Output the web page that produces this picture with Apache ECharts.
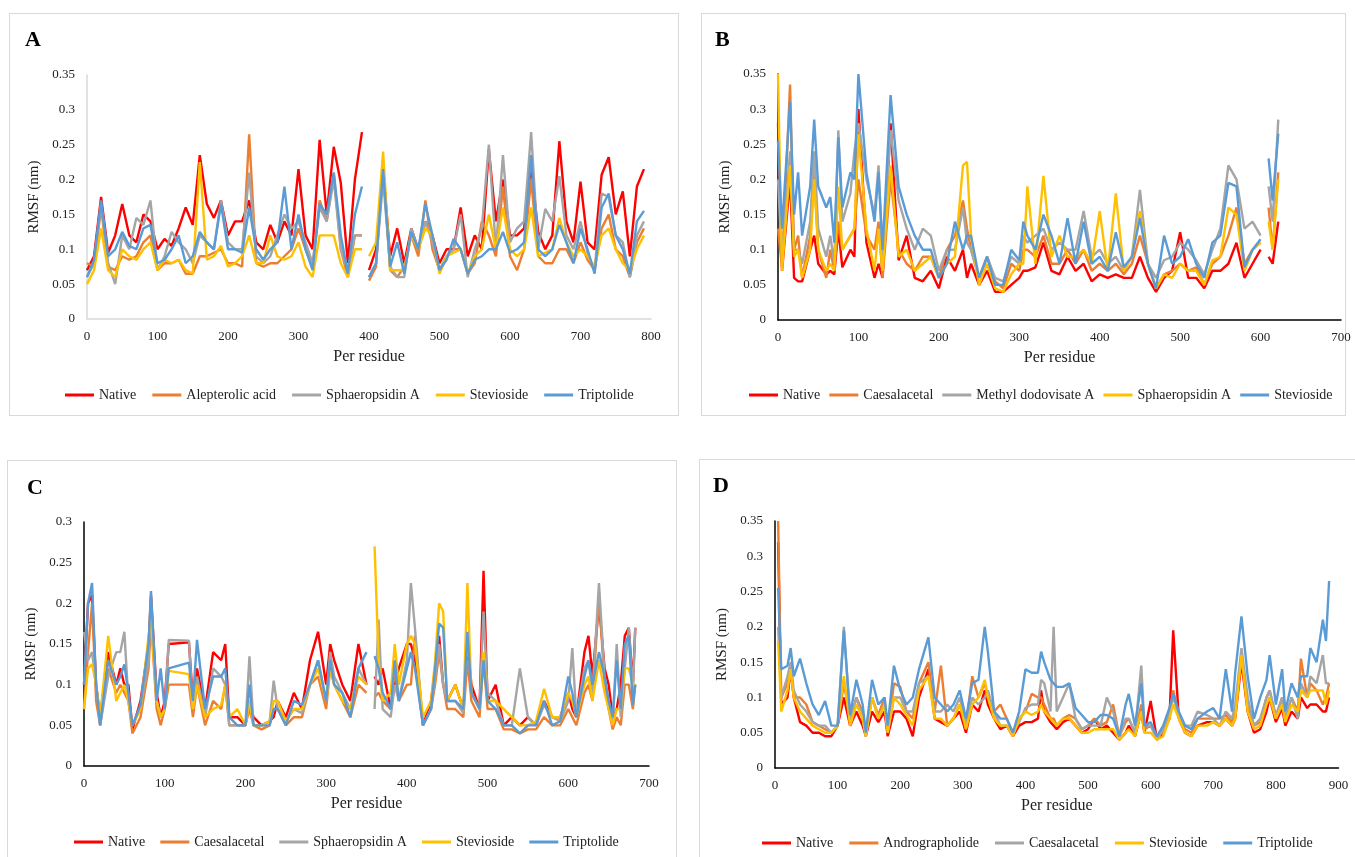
<!DOCTYPE html>
<html><head><meta charset="utf-8">
<script src="https://cdn.jsdelivr.net/npm/echarts@6/dist/echarts.min.js"></script>
<style>
html,body{margin:0;padding:0;width:1355px;height:857px;overflow:hidden;background:#fff;}
.bd{position:absolute;box-sizing:border-box;border:1px solid #d9d9d9;}
.ch{position:absolute;}
</style></head><body>
<div class="bd" style="left:9px;top:13px;width:670px;height:403px;"></div>
<div class="bd" style="left:701px;top:13px;width:645px;height:403px;"></div>
<div class="bd" style="left:7px;top:460px;width:670px;height:420px;"></div>
<div class="bd" style="left:699px;top:459px;width:680px;height:420px;"></div>
<div id="cA" class="ch" style="left:10px;top:14px;width:668px;height:401px;"></div>
<div id="cB" class="ch" style="left:702px;top:14px;width:653px;height:401px;"></div>
<div id="cC" class="ch" style="left:8px;top:461px;width:668px;height:400px;"></div>
<div id="cD" class="ch" style="left:700px;top:460px;width:655px;height:400px;"></div>
<script>
// ---------- Panel A ----------
const resA = [0,10,20,30,40,50,60,70,80,90,100,110,120,130,140,150,160,170,180,190,
200,210,220,230,240,250,260,270,280,290,300,310,320,330,340,350,360,370,380,390,395,
400,410,420,430,440,450,460,470,480,490,500,510,520,530,540,550,560,570,580,590,
600,610,620,630,640,650,660,670,680,690,700,710,720,730,740,750,760,770,780,790];
const namesA = ['Native','Alepterolic acid','Sphaeropsidin A','Stevioside','Triptolide'];
const aNative = [.07,.09,.175,.095,.12,.165,.12,.11,.15,.14,
.1,.115,.105,.13,.16,.135,.235,.165,.145,.17,
.12,.14,.14,.17,.11,.1,.135,.11,.14,.12,
.215,.12,.1,.257,.15,.247,.195,.08,.2,.268,null,
.07,.1,.215,.09,.13,.08,.13,.1,.14,.12,
.08,.1,.1,.16,.09,.12,.1,.243,.14,.2,
.12,.12,.13,.22,.125,.1,.12,.255,.14,.11,
.197,.11,.1,.207,.232,.15,.183,.09,.19,.215];
const aAlepterolic = [.08,.075,.16,.075,.07,.09,.085,.09,.11,.12,
.07,.08,.08,.085,.065,.065,.09,.09,.095,.1,
.08,.08,.075,.265,.08,.075,.08,.08,.09,.1,
.13,.1,.075,.17,.14,.21,.1,.06,.12,.12,null,
.055,.075,.22,.07,.06,.075,.12,.09,.17,.1,
.07,.09,.1,.1,.065,.08,.14,.12,.09,.19,
.09,.07,.1,.2,.09,.08,.08,.1,.1,.08,
.11,.085,.07,.13,.15,.1,.09,.06,.11,.13];
const aSphaeropsidin = [.06,.08,.165,.08,.05,.12,.1,.145,.135,.17,
.07,.09,.125,.11,.1,.08,.12,.11,.1,.17,
.11,.1,.1,.21,.09,.08,.09,.12,.15,.13,
.14,.11,.08,.16,.14,.2,.1,.07,.12,.12,null,
.06,.08,.2,.075,.06,.06,.13,.1,.14,.11,
.07,.09,.1,.15,.06,.1,.13,.25,.1,.235,
.11,.13,.14,.268,.1,.158,.14,.205,.12,.1,
.14,.095,.07,.18,.175,.12,.11,.06,.12,.14];
const aStevioside = [.05,.07,.13,.07,.06,.1,.09,.085,.1,.11,
.07,.085,.08,.085,.07,.065,.225,.085,.09,.105,
.075,.08,.09,.12,.08,.08,.12,.09,.085,.09,
.11,.075,.06,.12,.12,.12,.08,.06,.1,.1,null,
.09,.11,.24,.07,.07,.07,.12,.1,.13,.12,
.065,.09,.095,.1,.065,.09,.1,.15,.1,.16,
.1,.09,.1,.16,.09,.095,.1,.145,.11,.09,
.1,.09,.075,.12,.13,.1,.08,.07,.1,.12];
const aTriptolide = [.06,.085,.17,.09,.1,.125,.105,.1,.13,.135,
.08,.085,.1,.12,.08,.09,.125,.11,.1,.165,
.1,.1,.095,.16,.1,.085,.1,.11,.19,.1,
.15,.1,.07,.165,.15,.21,.12,.065,.15,.19,null,
.06,.08,.215,.075,.11,.065,.125,.1,.165,.12,
.07,.085,.115,.1,.065,.085,.09,.1,.1,.125,
.095,.1,.11,.235,.1,.09,.1,.135,.11,.08,
.13,.1,.065,.16,.18,.12,.1,.065,.14,.155];

// ---------- Panel B ----------
const resB = [0,5,15,20,25,30,40,45,50,60,65,70,75,80,90,95,100,110,120,125,
130,140,150,160,170,180,190,200,210,220,230,235,240,250,260,270,280,290,300,305,
310,320,330,340,350,360,370,380,390,400,410,420,430,440,450,460,470,480,490,500,
510,520,530,540,550,560,570,580,590,600,605,610,615,622];
const namesB = ['Native','Caesalacetal','Methyl dodovisate A','Sphaeropsidin A','Stevioside'];
const bNative = [.28,.07,.2,.06,.055,.055,.1,.12,.08,.065,
.07,.065,.13,.075,.1,.09,.3,.11,.06,.08,
.06,.28,.085,.12,.06,.055,.07,.045,.09,.07,
.1,.06,.08,.05,.07,.04,.04,.05,.06,.07,
.07,.075,.11,.07,.065,.09,.07,.08,.055,.065,
.06,.065,.06,.06,.09,.06,.04,.06,.07,.125,
.06,.06,.045,.07,.07,.08,.11,.06,.08,.1,
null,.09,.08,.14];
const bCaesalacetal = [.13,.075,.335,.1,.12,.06,.12,.21,.1,.06,
.1,.07,.14,.1,.12,.13,.2,.12,.1,.14,
.06,.2,.1,.08,.07,.09,.09,.06,.1,.12,
.17,.13,.1,.06,.09,.055,.045,.08,.07,.1,
.1,.09,.12,.08,.08,.1,.08,.1,.07,.08,
.07,.08,.065,.08,.12,.08,.045,.065,.07,.08,
.07,.075,.05,.08,.09,.12,.16,.08,.1,.11,
null,.16,.1,.21];
const bMethyl = [.2,.09,.24,.1,.1,.08,.14,.24,.13,.09,
.12,.08,.27,.14,.18,.24,.28,.2,.15,.22,
.09,.27,.17,.13,.1,.13,.12,.07,.1,.1,
.16,.11,.1,.06,.09,.06,.055,.09,.08,.12,
.11,.12,.13,.1,.11,.1,.1,.155,.09,.1,
.08,.09,.07,.09,.185,.08,.06,.085,.09,.11,
.1,.085,.065,.1,.13,.22,.2,.13,.14,.12,
null,.19,.14,.285];
const bSphaeropsidin = [.35,.07,.22,.09,.1,.06,.1,.2,.1,.07,
.08,.07,.19,.1,.12,.13,.265,.13,.07,.13,
.07,.22,.09,.1,.07,.08,.09,.06,.08,.09,
.22,.225,.12,.05,.08,.045,.04,.065,.08,.08,
.19,.08,.205,.09,.12,.09,.09,.1,.08,.155,
.07,.18,.07,.09,.155,.08,.045,.065,.06,.08,
.07,.07,.05,.085,.09,.16,.15,.07,.1,.11,
null,.14,.1,.2];
const bStevioside = [.255,.13,.31,.15,.21,.12,.19,.285,.19,.16,
.175,.11,.26,.16,.21,.2,.35,.21,.14,.21,
.1,.32,.19,.15,.12,.1,.1,.06,.08,.14,
.1,.12,.12,.06,.09,.05,.05,.1,.085,.14,
.12,.1,.15,.12,.08,.145,.08,.14,.08,.09,
.07,.125,.075,.09,.145,.08,.045,.12,.08,.09,
.115,.08,.06,.11,.12,.195,.19,.075,.1,.115,
null,.23,.17,.265];

// ---------- Panel C ----------
const resC = [0,5,10,15,20,30,40,45,50,55,60,70,80,83,90,95,100,105,130,135,
140,150,160,170,175,180,190,200,205,210,220,230,235,240,250,260,270,280,290,300,
305,310,320,330,340,350,355,360,365,370,380,385,390,400,405,410,420,430,435,440,
445,450,460,470,475,480,490,495,500,510,520,530,540,550,560,570,580,590,600,605,
610,620,625,630,638,645,650,655,660,665,670,675,680,683];
const namesC = ['Native','Caesalacetal','Sphaeropsidin A','Stevioside','Triptolide'];
const cNative = [.1,.2,.21,.1,.06,.14,.1,.12,.1,.1,
.045,.08,.15,.21,.09,.06,.08,.15,.152,.08,
.12,.07,.14,.13,.15,.06,.06,.05,.08,.06,
.05,.055,.06,.08,.06,.09,.07,.13,.165,.1,
.15,.13,.1,.08,.15,.1,null,.11,.1,.12,
.07,.1,.12,.15,.15,.13,.05,.08,.12,.16,
.1,.08,.1,.07,.15,.1,.07,.24,.08,.1,
.05,.06,.05,.06,.05,.08,.06,.06,.09,.07,
.06,.14,.16,.11,.2,.12,.1,.06,.07,.1,
.16,.17,.1,.17];
const cCaesalacetal = [.07,.14,.2,.08,.05,.12,.09,.1,.09,.08,
.04,.06,.12,.18,.07,.05,.07,.1,.1,.06,
.1,.05,.08,.07,.1,.05,.05,.05,.07,.05,
.045,.05,.07,.07,.05,.06,.06,.1,.11,.07,
.12,.1,.08,.06,.1,.09,null,.085,.09,.08,
.07,.12,.08,.1,.1,.16,.05,.07,.1,.14,
.1,.07,.07,.06,.13,.08,.06,.13,.07,.07,
.045,.045,.04,.045,.045,.06,.05,.05,.07,.06,
.05,.09,.1,.08,.21,.1,.07,.045,.06,.05,
.1,.1,.07,.1];
const cSphaeropsidin = [.165,.13,.14,.1,.05,.11,.14,.14,.165,.08,
.05,.07,.13,.2,.08,.06,.07,.155,.154,.07,
.11,.06,.12,.11,.1,.05,.05,.05,.135,.05,
.05,.055,.105,.07,.055,.07,.065,.1,.13,.08,
.14,.11,.09,.07,.12,.1,null,.07,.18,.07,
.06,.1,.08,.13,.225,.17,.05,.07,.11,.15,
.1,.08,.08,.065,.16,.09,.07,.19,.09,.08,
.05,.05,.12,.06,.05,.075,.06,.055,.08,.145,
.06,.12,.13,.09,.225,.11,.08,.05,.15,.06,
.12,.17,.09,.17];
const cStevioside = [.07,.12,.125,.1,.06,.16,.08,.09,.1,.08,
.05,.07,.16,.18,.08,.06,.07,.117,.113,.07,
.1,.06,.07,.075,.1,.06,.07,.05,.08,.05,
.05,.055,.08,.08,.055,.07,.07,.1,.12,.08,
.12,.1,.08,.07,.11,.1,null,.27,.13,.08,
.09,.15,.1,.15,.16,.15,.06,.08,.13,.2,
.19,.08,.1,.07,.225,.09,.07,.14,.08,.08,
.07,.06,.05,.05,.055,.095,.06,.06,.09,.08,
.06,.1,.11,.08,.13,.09,.07,.05,.07,.07,
.12,.12,.1,.1];
const cTriptolide = [.1,.2,.225,.1,.05,.13,.1,.11,.125,.09,
.05,.075,.15,.215,.08,.12,.07,.12,.127,.08,
.155,.07,.11,.11,.12,.06,.05,.05,.1,.05,
.05,.05,.07,.07,.05,.08,.075,.1,.13,.08,
.13,.1,.09,.06,.12,.14,null,.135,.12,.09,
.07,.13,.08,.12,.14,.12,.05,.07,.12,.175,
.17,.08,.08,.07,.165,.09,.07,.13,.08,.07,
.05,.05,.04,.05,.05,.08,.05,.055,.11,.09,
.06,.11,.13,.1,.14,.11,.08,.06,.13,.07,
.15,.16,.075,.1];

// ---------- Panel D ----------
const resD = [5,10,20,25,30,40,50,60,70,80,90,100,110,120,130,140,145,155,165,175,
180,190,200,210,220,230,245,255,265,275,285,295,305,315,325,335,340,350,360,370,
380,390,400,410,420,425,430,440,445,450,460,470,480,490,500,510,520,530,540,550,
560,565,575,585,590,600,610,620,630,636,645,655,665,675,690,700,710,720,730,735,
745,755,765,775,785,790,800,810,815,825,835,840,850,855,865,875,880,885];
const namesD = ['Native','Andrographolide','Caesalacetal','Stevioside','Triptolide'];
const dNative = [.32,.09,.1,.14,.1,.065,.06,.05,.05,.045,
.045,.06,.1,.06,.08,.06,.045,.08,.065,.08,
.045,.08,.08,.07,.045,.1,.14,.07,.065,.06,
.07,.08,.05,.09,.08,.11,.09,.07,.055,.06,
.045,.06,.065,.065,.07,.11,.08,.065,.06,.055,
.065,.07,.06,.05,.055,.07,.055,.06,.05,.04,
.05,.06,.045,.08,.05,.095,.04,.05,.07,.195,
.07,.05,.045,.06,.065,.065,.06,.07,.06,.07,
.15,.08,.05,.055,.08,.1,.065,.085,.06,.08,
.07,.1,.085,.09,.09,.08,.08,.1];
const dAndrographolide = [.35,.1,.12,.14,.1,.1,.09,.065,.06,.055,
.05,.06,.12,.07,.1,.08,.05,.1,.075,.1,
.05,.12,.115,.08,.07,.12,.15,.08,.145,.06,
.07,.09,.06,.13,.1,.12,.1,.08,.09,.07,
.05,.07,.08,.105,.1,.1,.09,.07,.07,.06,
.07,.075,.07,.055,.06,.07,.06,.065,.09,.045,
.065,.07,.05,.09,.055,.06,.045,.05,.075,.11,
.075,.055,.05,.07,.07,.07,.07,.075,.065,.08,
.16,.09,.06,.065,.1,.11,.07,.1,.07,.1,
.08,.155,.1,.12,.11,.09,.1,.12];
const dCaesalacetal = [.2,.1,.13,.15,.11,.09,.08,.065,.06,.06,
.05,.06,.2,.065,.1,.07,.045,.1,.07,.09,
.05,.1,.1,.08,.08,.12,.13,.08,.08,.09,
.08,.1,.06,.1,.09,.1,.11,.08,.06,.06,
.05,.065,.085,.09,.09,.125,.12,.08,.2,.08,
.1,.12,.07,.055,.06,.06,.06,.1,.08,.045,
.07,.07,.05,.145,.06,.06,.04,.055,.08,.1,
.075,.06,.06,.08,.075,.07,.06,.08,.07,.09,
.17,.1,.06,.07,.1,.11,.075,.1,.07,.1,
.07,.12,.1,.13,.12,.16,.12,.12];
const dStevioside = [.18,.08,.11,.14,.1,.08,.07,.06,.055,.05,
.05,.06,.13,.06,.09,.07,.045,.1,.07,.09,
.05,.1,.09,.075,.06,.11,.13,.07,.07,.06,
.07,.09,.055,.09,.1,.125,.1,.07,.06,.06,
.045,.07,.08,.075,.08,.09,.08,.07,.065,.06,
.07,.07,.06,.05,.05,.055,.055,.055,.055,.04,
.05,.055,.045,.08,.05,.05,.04,.045,.07,.09,
.07,.05,.045,.06,.06,.065,.06,.07,.06,.07,
.16,.08,.055,.06,.09,.1,.07,.09,.065,.09,
.08,.11,.1,.11,.11,.11,.09,.11];
const dTriptolide = [.255,.14,.145,.17,.13,.155,.12,.09,.075,.095,
.06,.06,.195,.075,.125,.09,.05,.125,.09,.1,
.06,.145,.11,.09,.1,.14,.185,.1,.09,.08,
.09,.11,.07,.12,.125,.2,.165,.08,.07,.07,
.05,.08,.14,.135,.135,.165,.15,.125,.12,.115,
.115,.12,.085,.075,.065,.065,.075,.075,.07,.045,
.09,.105,.06,.12,.06,.065,.045,.06,.085,.105,
.08,.06,.055,.07,.08,.085,.07,.14,.08,.135,
.215,.13,.07,.1,.125,.16,.09,.14,.08,.12,
.1,.13,.13,.17,.15,.21,.18,.265];

const COLORS = ['#FF0000','#ED7D31','#A5A5A5','#FFC000','#5B9BD5'];
const FONT = '"Liberation Serif","Times New Roman",serif';

function buildSeries(res, names, arrs){
  return arrs.map(function(vals, k){
    if (vals.length !== res.length) console.error('length mismatch', names[k], vals.length, res.length);
    return {
      type:'line', name:names[k], symbol:'none', showSymbol:false, connectNulls:false,
      smooth:false, animation:false,
      lineStyle:{width:2.4, color:COLORS[k]}, itemStyle:{color:COLORS[k]},
      data: res.map(function(r,i){ return [r, vals[i]==null ? '-' : vals[i]]; })
    };
  });
}

function makeChart(id, cfg){
  const chart = echarts.init(document.getElementById(id), null, {renderer:'canvas'});
  const axisColor = cfg.axisColor;
  const grid = Object.assign({outerBoundsMode:'none', containLabel:false}, cfg.grid);
  chart.setOption({
    animation:false,
    title:{text:cfg.letter, left:cfg.titleLeft, top:cfg.titleTop, padding:0,
      textStyle:{fontFamily:FONT, fontSize:22, fontWeight:'bold', color:'#000'}},
    grid:grid,
    legend:{data:cfg.names, left:cfg.legendLeft, top:cfg.legendTop, icon:'rect',
      itemWidth:29, itemHeight:3, itemGap:cfg.legendGap, padding:0, width:700,
      textStyle:{fontFamily:FONT, fontSize:14, color:'#222'}},
    xAxis:{type:'value', min:0, max:cfg.xMax, interval:100,
      name:'Per residue', nameLocation:'middle', nameGap:30,
      nameTextStyle:{fontFamily:FONT, fontSize:16, color:'#222'},
      axisLine:{show:true, lineStyle:{color:axisColor, width:1.5}},
      axisTick:{show:false}, splitLine:{show:false},
      axisLabel:{fontFamily:FONT, fontSize:13, color:'#222', margin:11}},
    yAxis:{type:'value', min:0, max:cfg.yMax, interval:0.05,
      name:'RMSF (nm)', nameLocation:'middle', nameGap:cfg.yNameGap, nameRotate:90,
      nameTextStyle:{fontFamily:FONT, fontSize:15, color:'#222'},
      axisLine:{show:true, lineStyle:{color:axisColor, width:1.5}},
      axisTick:{show:false}, splitLine:{show:false},
      axisLabel:{fontFamily:FONT, fontSize:13, color:'#222', margin:12}},
    series: buildSeries(cfg.res, cfg.names, cfg.arrs)
  });
}

makeChart('cA', {letter:'A', titleLeft:15, titleTop:15, names:namesA, res:resA,
  arrs:[aNative,aAlepterolic,aSphaeropsidin,aStevioside,aTriptolide],
  grid:{left:77, right:27, top:61, bottom:96}, xMax:800, yMax:0.35, yNameGap:39,
  legendLeft:55, legendTop:374, legendGap:16, axisColor:'#D9D9D9'});
makeChart('cB', {letter:'B', titleLeft:13, titleTop:15, names:namesB, res:resB,
  arrs:[bNative,bCaesalacetal,bMethyl,bSphaeropsidin,bStevioside],
  grid:{left:76, right:14, top:60, bottom:95}, xMax:700, yMax:0.35, yNameGap:39,
  legendLeft:47, legendTop:374, legendGap:9, axisColor:'#000'});
makeChart('cC', {letter:'C', titleLeft:19, titleTop:16, names:namesC, res:resC,
  arrs:[cNative,cCaesalacetal,cSphaeropsidin,cStevioside,cTriptolide],
  grid:{left:76, right:27, top:61, bottom:95}, xMax:700, yMax:0.3, yNameGap:39,
  legendLeft:66, legendTop:374, legendGap:15, axisColor:'#000'});
makeChart('cD', {letter:'D', titleLeft:13, titleTop:15, names:namesD, res:resD,
  arrs:[dNative,dAndrographolide,dCaesalacetal,dStevioside,dTriptolide],
  grid:{left:75, right:16.5, top:61, bottom:92}, xMax:900, yMax:0.35, yNameGap:38,
  legendLeft:62, legendTop:376, legendGap:16, axisColor:'#000'});
</script>
</body></html>
